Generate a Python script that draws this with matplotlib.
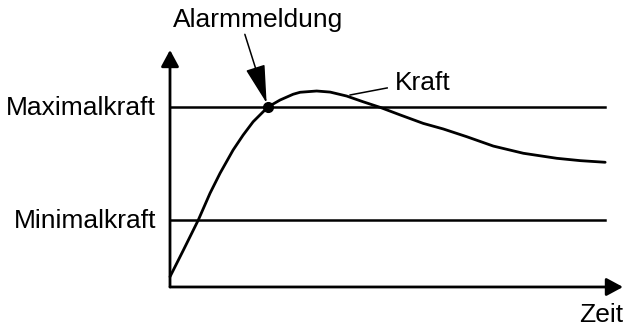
import matplotlib.pyplot as plt
from matplotlib.patches import FancyArrowPatch

plt.rcParams['font.family'] = ['Liberation Sans', 'DejaVu Sans']

# Kraftverlauf (Zeit in %, Kraft relativ zur Maximalkraft = 100)
zeit = [0, 3.1, 6.5, 9.2, 11.5, 14.5, 16.8, 19.1, 22.5, 25.3, 28.3, 29.9, 33.7,
        36.8, 40.6, 44.4, 48.3, 52.9, 58.2, 62.8, 68.2, 74.3, 81.2, 88.9, 94.3, 100]
kraft = [5.7, 20.6, 37.2, 52.1, 63.2, 76.1, 84.4, 91.8, 100, 103.9, 107.1, 108.2, 108.9,
         108.3, 106.1, 102.9, 99.8, 95.6, 90.9, 87.8, 83.5, 78.3, 74.3, 71.5, 70.2, 69.3]

maximalkraft = 100
minimalkraft = 37.2
alarm = (22.5, 100)

fig = plt.figure(figsize=(6.25, 3.29), dpi=100)
ax = fig.add_axes([0.272, 0.1277, 0.7248, 0.7204])
ax.set_xlim(0, 104.1)
ax.set_ylim(0, 131.7)
ax.axis('off')

# Achsen mit Pfeilspitzen
for ende in [(104.1, 0), (0, 131.7)]:
    ax.add_patch(FancyArrowPatch((0, 0), ende, arrowstyle='-|>,head_length=10,head_width=5.4',
                                 mutation_scale=1, lw=2.0, color='black',
                                 shrinkA=0, shrinkB=0, clip_on=False))

# Grenzlinien
ax.plot([0, 100], [maximalkraft, maximalkraft], color='black', lw=1.8)
ax.plot([0, 100], [minimalkraft, minimalkraft], color='black', lw=1.8)

# Kraftkurve
ax.plot(zeit, kraft, color='black', lw=2.0, clip_on=False,
        solid_joinstyle='round', solid_capstyle='round')
ax.plot(*alarm, 'o', color='black', ms=7)

fs = 19
ax.text(-3.2, maximalkraft - 4.4, 'Maximalkraft', ha='right', va='baseline', fontsize=fs)
ax.text(-3.2, minimalkraft - 4.3, 'Minimalkraft', ha='right', va='baseline', fontsize=fs)
ax.text(104.1, -19.4, 'Zeit', ha='right', va='baseline', fontsize=fs)
ax.text(20.2, 144.4, 'Alarmmeldung', ha='center', va='baseline', fontsize=fs, clip_on=False)
ax.text(51.7, 109.4, 'Kraft', ha='left', va='baseline', fontsize=fs)

# Hinweislinie zu "Kraft"
ax.plot([41.4, 49.9], [106.7, 110.6], color='black', lw=1.1)

# Pfeil Alarmmeldung
ax.add_patch(FancyArrowPatch((17.2, 140.4), (22.2, 102.2),
                             arrowstyle='-|>,head_length=24,head_width=6.2',
                             mutation_scale=1, lw=1.1, color='black',
                             shrinkA=0, shrinkB=0, clip_on=False))

plt.savefig('out.png', dpi=100)
